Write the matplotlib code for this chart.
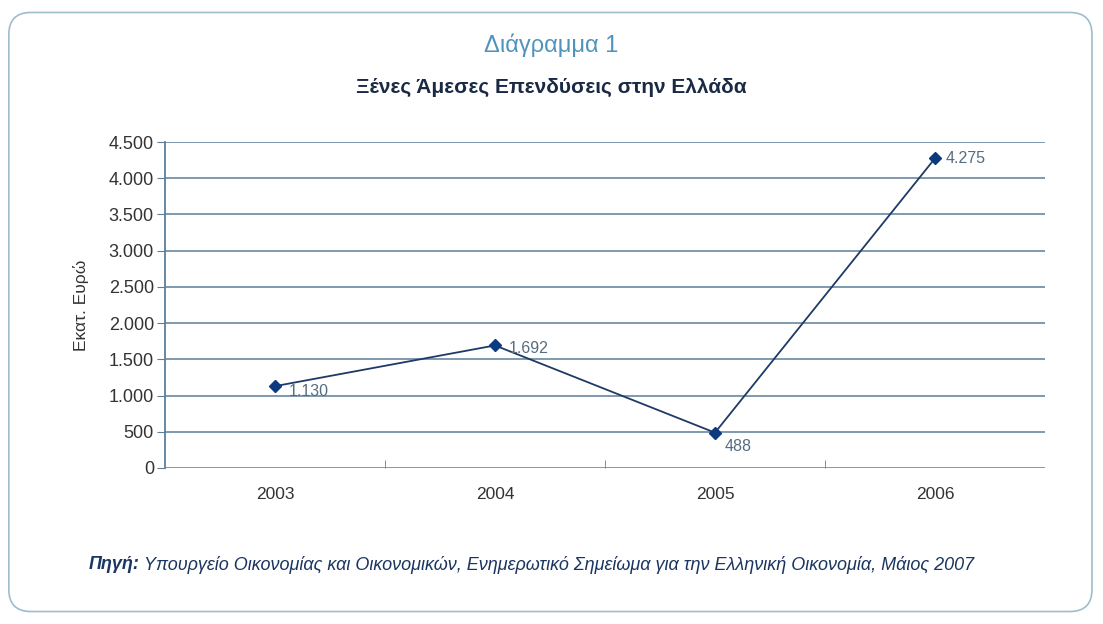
import matplotlib.pyplot as plt
from matplotlib.patches import FancyBboxPatch
from matplotlib.ticker import FuncFormatter, MultipleLocator

plt.rcParams['font.family'] = ['Liberation Sans Narrow', 'Liberation Sans', 'DejaVu Sans']

# data
years = ['2003', '2004', '2005', '2006']
fdi = [1130, 1692, 488, 4275]

# offsets (points) for the value labels
label_offsets = [(10, -4), (10, -2), (7, -10), (8, 0)]


def dot_thousands(v, pos=None):
    return f'{int(v):,}'.replace(',', '.')


fig = plt.figure(figsize=(11.03, 6.24), dpi=100)

# rounded frame around the whole chart
frame = FancyBboxPatch((0.008, 0.02), 0.982, 0.96, boxstyle='round,pad=0,rounding_size=0.02',
                       transform=fig.transFigure, facecolor='white', edgecolor='#9fbccc',
                       linewidth=1.2, mutation_aspect=1103 / 624, zorder=-10)
fig.patches.append(frame)

ax = fig.add_axes([0.1496, 0.25, 0.7978, 0.5224])
ax.set_zorder(5)
ax.patch.set_alpha(0)
x = list(range(len(years)))
ax.plot(x, fdi, color='#1f3a66', linewidth=1.3, marker='D', markersize=6,
        markerfacecolor='#0b3a80', markeredgecolor='#0b3a80')

for xi, v, (dx, dy) in zip(x, fdi, label_offsets):
    ax.annotate(dot_thousands(v), (xi, v), xytext=(dx, dy), textcoords='offset points',
                ha='left', va='center', fontsize=11.5, color='#556d80')

ax.set_xlim(-0.5, 3.5)
ax.set_ylim(0, 4500)
ax.yaxis.set_major_locator(MultipleLocator(500))
ax.yaxis.set_major_formatter(FuncFormatter(dot_thousands))
ax.set_xticks(x)
ax.set_xticklabels(years)
ax.set_xticks([0.5, 1.5, 2.5], minor=True)
ax.tick_params(axis='x', which='major', length=0, pad=14, labelsize=12.5, colors='#333333')
ax.tick_params(axis='x', which='minor', length=6, color='#5b7f9a', direction='in')
ax.tick_params(axis='y', length=6, color='#5b7f9a', labelsize=13, labelcolor='#333333', pad=2)

ax.grid(axis='y', color='#5b7f9a', linewidth=1.1)
ax.set_axisbelow(True)
for side in ['top', 'right']:
    ax.spines[side].set_visible(False)
ax.spines['left'].set_color('#5b7f9a')
ax.spines['left'].set_linewidth(1.3)
ax.spines['bottom'].set_visible(False)

ax.set_ylabel('Εκατ. Ευρώ', fontsize=12.5, color='#333333', labelpad=14)

fig.text(0.5, 0.928, 'Διάγραμμα 1', ha='center', va='center', fontsize=17, color='#4f93bd')
fig.text(0.5, 0.86, 'Ξένες Άμεσες Επενδύσεις στην Ελλάδα', ha='center', va='center',
         fontsize=15, fontweight='bold', color='#1a2a44')

fig.text(0.08, 0.095, 'Πηγή:', ha='left', va='center', fontsize=13, fontweight='bold',
         fontstyle='italic', color='#1a3560')
fig.text(0.131, 0.095, 'Υπουργείο Οικονομίας και Οικονομικών, Ενημερωτικό Σημείωμα για την Ελληνική Οικονομία, Μάιος 2007',
         ha='left', va='center', fontsize=13, fontstyle='italic', color='#1a3560')

plt.savefig('out.png', dpi=100)
